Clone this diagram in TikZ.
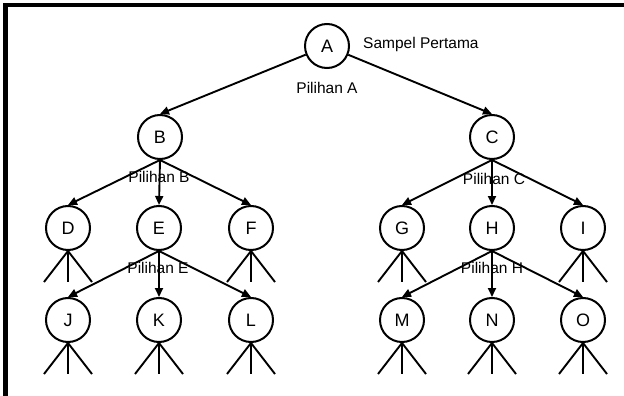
\documentclass[tikz,border=0pt]{standalone}
\usepackage{fontspec}
\setmainfont{Liberation Sans}
\usetikzlibrary{arrows.meta}
\begin{document}
\begin{tikzpicture}[x=1pt,y=-1pt,
  state/.style={circle,draw,line width=2pt,minimum size=44pt,inner sep=0pt,font=\fontsize{18}{18}\selectfont},
  link/.style={line width=1.9pt,-{Triangle[length=9pt,width=8pt]}},
  leg/.style={line width=1.9pt},
  lbl/.style={font=\fontsize{15.5}{16}\selectfont,inner sep=0pt}]
\useasboundingbox (0,0) rectangle (624,396);
\fill (2.7,2.7) rectangle (624,7);
\fill (2.7,2.7) rectangle (8.3,396);
% nodes
\node[state] (A) at (327,46) {A};
\node[state] (B) at (160,137) {B};
\node[state] (C) at (492,137) {C};
\node[state] (D) at (68,228) {D};
\node[state] (E) at (159,228) {E};
\node[state] (F) at (251,228) {F};
\node[state] (G) at (402,228) {G};
\node[state] (H) at (492,228) {H};
\node[state] (I) at (583,228) {I};
\node[state] (J) at (68,320) {J};
\node[state] (K) at (159,320) {K};
\node[state] (L) at (251,320) {L};
\node[state] (M) at (402,320) {M};
\node[state] (N) at (492,320) {N};
\node[state] (O) at (583,320) {O};
% connectors
\draw[link] (A) -- (B.north);
\draw[link] (A) -- (C.north);
\foreach \p/\c in {B/D,B/E,B/F,C/G,C/H,C/I,E/J,E/K,E/L,H/M,H/N,H/O}
  \draw[link] (\p.south) -- (\c.north);
% legs
\foreach \n in {D,F,G,I,J,K,L,M,N,O}{
  \draw[leg] (\n.south) -- ++(-24,31);
  \draw[leg] (\n.south) -- ++(0,31);
  \draw[leg] (\n.south) -- ++(24,31);
}
% labels
\node[lbl,anchor=west] (s) at (363,44) {Sampel Pertama};
\node[lbl] (pa) at (327,88) {Pilihan A};
\node[lbl] (pb) at (159,177) {Pilihan B};
\node[lbl] (pc) at (494,179) {Pilihan C};
\node[lbl] (pe) at (158,268) {Pilihan E};
\node[lbl] (ph) at (492,268) {Pilihan H};
\end{tikzpicture}
\end{document}
